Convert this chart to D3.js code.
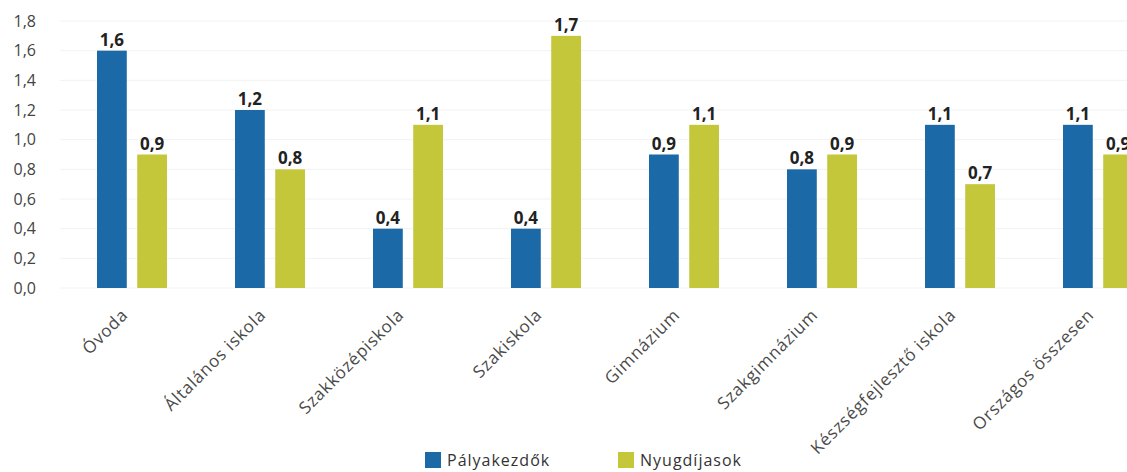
<!DOCTYPE html>
<html>
<head>
<meta charset="utf-8">
<script src="https://cdn.jsdelivr.net/npm/d3@7"></script>
<style>
  body { margin: 0; background: #fff; overflow: hidden; }
  text { font-family: 'Open Sans', sans-serif; }
</style>
</head>
<body>
<div id="chart"></div>
<script>
// Data
const categories = [
  'Óvoda',
  'Általános iskola',
  'Szakközépiskola',
  'Szakiskola',
  'Gimnázium',
  'Szakgimnázium',
  'Készségfejlesztő iskola',
  'Országos összesen',
];
const seriesNames = ['Pályakezdők', 'Nyugdíjasok'];
const palyakezdok = [1.6, 1.2, 0.4, 0.4, 0.9, 0.8, 1.1, 1.1];
const nyugdijasok = [0.9, 0.8, 1.1, 1.7, 1.1, 0.9, 0.7, 0.9];
const yTicks = [0, 0.2, 0.4, 0.6, 0.8, 1.0, 1.2, 1.4, 1.6, 1.8];

const colors = ['#1b69a6', '#c5c73b'];
const width = 1127;
const height = 472;

const fmt = (v) => d3.format('.1f')(v).replace('.', ',');

const svg = d3
  .select('#chart')
  .append('svg')
  .attr('width', width)
  .attr('height', height);

// Scales
const y = d3.scaleLinear().domain([0, 1.8]).range([288, 21]);

const x0 = d3
  .scaleBand()
  .domain(categories)
  .range([63, 63 + 138 * 8])
  .paddingInner(0.493)
  .paddingOuter(0.2465);

const x1 = d3
  .scaleBand()
  .domain(seriesNames)
  .range([0, x0.bandwidth()])
  .paddingInner(0.26);

// Faint gridlines
svg
  .append('g')
  .selectAll('line')
  .data(yTicks)
  .enter()
  .append('line')
  .attr('x1', 60)
  .attr('x2', width)
  .attr('y1', (d) => y(d))
  .attr('y2', (d) => y(d))
  .attr('stroke', '#f2f2f2')
  .attr('stroke-width', 1);

// Y axis
const yAxis = d3
  .axisLeft(y)
  .tickValues(yTicks)
  .tickFormat(fmt)
  .tickSize(0)
  .tickPadding(0);

const yG = svg.append('g').attr('transform', 'translate(36,0)').call(yAxis);
yG.select('.domain').remove();
yG.selectAll('text')
  .style('font-size', '16px')
  .style('fill', '#444');

// Bars
const rows = categories.map((c, i) => ({
  cat: c,
  values: [
    { key: seriesNames[0], value: palyakezdok[i] },
    { key: seriesNames[1], value: nyugdijasok[i] },
  ],
}));

const groups = svg
  .selectAll('.group')
  .data(rows)
  .enter()
  .append('g')
  .attr('class', 'group')
  .attr('transform', (d) => 'translate(' + x0(d.cat) + ',0)');

groups
  .selectAll('rect')
  .data((d) => d.values)
  .enter()
  .append('rect')
  .attr('x', (d) => x1(d.key))
  .attr('y', (d) => y(d.value))
  .attr('width', x1.bandwidth())
  .attr('height', (d) => y(0) - y(d.value))
  .attr('fill', (d, i) => colors[i]);

groups
  .selectAll('.val')
  .data((d) => d.values)
  .enter()
  .append('text')
  .attr('class', 'val')
  .attr('x', (d) => x1(d.key) + x1.bandwidth() / 2)
  .attr('y', (d) => y(d.value) - 5)
  .attr('text-anchor', 'middle')
  .style('font-size', '17px')
  .style('font-weight', 'bold')
  .style('fill', '#222')
  .text((d) => fmt(d.value));

// X labels, rotated
svg
  .selectAll('.xlab')
  .data(categories)
  .enter()
  .append('text')
  .attr('class', 'xlab')
  .attr('text-anchor', 'end')
  .attr(
    'transform',
    (d) => 'translate(' + (x0(d) + x0.bandwidth() / 2 - 3) + ',316) rotate(-45)',
  )
  .style('font-size', '17px')
  .style('letter-spacing', '0.8px')
  .style('fill', '#4a4a4a')
  .text((d) => d);

// Legend
const legend = svg
  .selectAll('.legend')
  .data(seriesNames)
  .enter()
  .append('g')
  .attr('class', 'legend')
  .attr('transform', (d, i) => 'translate(' + (425 + i * 193) + ',452)');

legend
  .append('rect')
  .attr('width', 16)
  .attr('height', 16)
  .attr('fill', (d, i) => colors[i]);

legend
  .append('text')
  .attr('x', 22)
  .attr('y', 14)
  .style('font-size', '16px')
  .style('letter-spacing', '1px')
  .style('fill', '#333')
  .text((d) => d);
</script>
</body>
</html>
